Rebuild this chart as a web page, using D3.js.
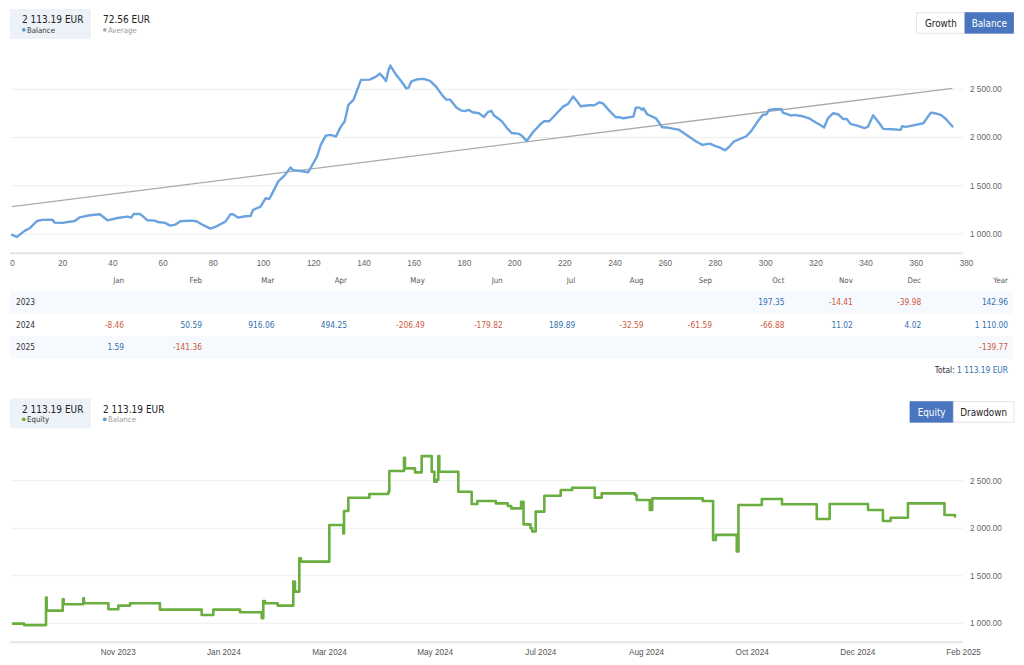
<!DOCTYPE html>
<html><head><meta charset="utf-8">
<script src="https://cdnjs.cloudflare.com/ajax/libs/d3/7.8.5/d3.min.js"></script>
<style>
body{margin:0;background:#fff;width:1024px;height:665px;overflow:hidden;position:relative;font-family:"DejaVu Sans Condensed","DejaVu Sans",sans-serif;}
svg{position:absolute;left:0;top:0}
#tbl{position:absolute;left:10px;top:270px;width:1003px;}
table{width:1003px;border-collapse:collapse;font-size:8.3px;}
td{padding:0 5px;text-align:right;height:22.5px;white-space:nowrap}
tr.h td{height:21px;color:#555;font-size:7.8px}
td.y{text-align:left;color:#333;padding-left:6px}
tr.alt td{background:#f6f9fd}
.pos{color:#2f6fae}.neg{color:#cc5a41}
</style></head>
<body>
<svg id="c" width="1024" height="665"></svg>
<div id="tbl"></div>
<script>
// ---------- data ----------
const balanceNow = 2113.19;
const averageVal = 72.56;
const equityNow = 2113.19;
// balance curve: [trade #, balance]
const balancePts = [[0,990],[2,970],[5,1032],[7,1059],[10,1135],[12,1146],[16,1149],[17,1118],[20,1115],[25,1135],[27,1173],[31,1194],[35,1204],[38,1142],[42,1166],[46,1180],[47.5,1170],[48.5,1208],[51,1208],[54,1142],[57,1139],[58,1125],[61,1115],[63,1087],[65,1097],[67,1132],[71,1139],[73.5,1132],[76,1094],[79,1056],[81.5,1080],[85,1128],[87,1204],[88,1204],[90,1170],[93,1184],[95,1187],[96,1249],[99,1284],[101,1370],[102.5,1363],[104,1439],[106,1543],[108.5,1605],[111,1688],[112,1660],[115,1653],[118,1640],[120,1733],[121.5,1802],[123,1923],[125,2020],[127,2027],[129,2009],[131,2113],[132.5,2165],[134,2338],[136,2389],[138,2528],[139,2597],[142.5,2600],[145,2631],[146.5,2662],[148,2621],[149,2586],[150,2700],[150.7,2745],[153,2649],[155,2586],[157,2510],[158,2517],[159,2579],[161.5,2604],[164,2607],[166.5,2586],[169,2524],[171.5,2434],[173,2393],[174.5,2393],[177,2310],[179,2279],[180.5,2275],[182,2286],[183.5,2262],[186,2251],[188,2213],[189.5,2262],[191,2275],[192,2227],[195,2172],[197,2103],[199,2047],[202,2037],[203,2020],[205,1964],[207.5,2054],[211,2151],[212,2168],[214,2168],[217,2251],[219.5,2320],[221.5,2348],[223.5,2424],[225,2379],[226.5,2324],[230,2334],[232,2334],[234,2365],[235.5,2351],[238,2275],[240.5,2210],[242,2210],[243.5,2199],[247.5,2217],[248.5,2310],[250,2310],[251,2286],[251.5,2303],[253,2241],[255,2217],[256.5,2199],[259,2106],[261,2103],[265.5,2082],[269,2020],[272.5,1958],[275,1923],[278,1937],[280,1913],[282,1895],[284,1868],[285.5,1899],[287.5,1958],[290.5,1992],[292.5,2013],[294.5,2068],[297,2165],[299,2234],[300.5,2241],[301.5,2286],[303.5,2293],[306.5,2296],[307,2258],[310.5,2227],[311.5,2234],[315,2220],[317.5,2199],[320,2158],[322,2130],[323.5,2103],[325,2199],[327,2251],[329,2241],[331,2192],[332.5,2192],[334,2141],[337,2120],[339.5,2096],[341,2113],[343,2230],[345.5,2148],[347,2089],[350.5,2086],[354,2079],[354.5,2116],[356,2110],[358.5,2123],[363,2148],[366,2258],[367.5,2251],[370,2234],[372,2192],[374.6,2113.19]];
// average trend line: [trade #, value]
const averagePts = [[0,1284],[374.6,2510]];
// equity steps: [time position, equity]
const equityPts = [[0,997],[1.14,981],[3.22,1270],[3.28,1133],[4.8,1253],[4.89,1200],[6.75,1263],[6.81,1211],[9.12,1147],[10.06,1186],[11.17,1211],[14.0,1144],[17.95,1088],[19.05,1144],[21.58,1116],[23.63,1053],[23.78,1235],[23.94,1211],[25.14,1186],[26.62,1438],[26.78,1333],[27.19,1684],[27.35,1649],[30.03,2034],[31.35,1946],[31.42,2181],[31.83,2321],[33.82,2360],[35.61,2384],[35.71,2602],[37.1,2742],[37.19,2630],[38.14,2588],[38.77,2759],[39.72,2595],[39.97,2490],[40.19,2510],[40.34,2759],[40.44,2595],[42.24,2384],[43.5,2255],[44.04,2286],[45.78,2262],[46.92,2234],[47.25,2209],[48.18,2279],[48.41,2041],[49.07,2000],[49.23,1965],[49.56,2175],[50.38,2342],[51.93,2402],[53.01,2426],[55.15,2322],[55.81,2367],[58.94,2350],[59.11,2297],[60.36,2192],[60.59,2314],[65.36,2286],[66.35,1877],[66.61,1930],[68.59,1755],[68.75,2245],[70.96,2308],[72.87,2252],[76.16,2097],[77.38,2255],[81.01,2192],[82.42,2077],[83.15,2111],[84.79,2262],[88.25,2140],[89.24,2113]];
const yTicks = [1000,1500,2000,2500];
const tradeTicks = [0,20,40,60,80,100,120,140,160,180,200,220,240,260,280,300,320,340,360,380];
const dateTickPos = [10,20,30,40,50,60,70,80,90];
const dateTickLabels = ["Nov 2023","Jan 2024","Mar 2024","May 2024","Jul 2024","Aug 2024","Oct 2024","Dec 2024","Feb 2025"];
const months = ["Jan","Feb","Mar","Apr","May","Jun","Jul","Aug","Sep","Oct","Nov","Dec"];
const years = ["2023","2024","2025"];
const monthly2023 = [null,null,null,null,null,null,null,null,null,197.35,-14.41,-39.98];
const monthly2024 = [-8.46,50.59,916.06,494.25,-206.49,-179.82,189.89,-32.59,-61.59,-66.88,11.02,4.02];
const monthly2025 = [1.59,-141.36,null,null,null,null,null,null,null,null,null,null];
const yearTotals = [142.96,1110.00,-139.77];
const totalProfit = 1113.19;

// ---------- helpers ----------
const loc = d3.formatLocale({decimal:".",thousands:" ",grouping:[3],currency:["",""],minus:"-"});
const f2 = loc.format(",.2f");
const svg = d3.select("#c");
const axisFont = "'Liberation Sans', Arial, sans-serif";
const uiFont = "'DejaVu Sans Condensed','DejaVu Sans',sans-serif";

function legendBlock(y0, items){
  svg.append("rect").attr("x",10).attr("y",y0).attr("width",81).attr("height",30).attr("fill","#edf2f9");
  items.forEach((it,i)=>{
    const x = i===0 ? 22 : 103;
    svg.append("text").attr("x",x).attr("y",y0+14).attr("font-family",uiFont).attr("font-size",10)
      .attr("fill","#222").text(it.value);
    svg.append("circle").attr("cx",x+1.8).attr("cy",y0+20.8).attr("r",1.9).attr("fill",it.dot);
    svg.append("text").attr("x",x+5).attr("y",y0+23.5).attr("font-family",uiFont).attr("font-size",7.8)
      .attr("fill",it.fg).text(it.label);
  });
}
function buttons(y0, defs){
  defs.forEach(b=>{
    svg.append("rect").attr("x",b.x).attr("y",y0).attr("width",b.w).attr("height",20.5)
      .attr("fill",b.on?"#4a76bf":"#fff").attr("stroke",b.on?"#4a76bf":"#dcdcdc").attr("stroke-width",0.8);
    svg.append("text").attr("x",b.x+b.w/2).attr("y",y0+10.5).attr("dy","0.35em").attr("text-anchor","middle")
      .attr("font-family",uiFont).attr("font-size",9.8).attr("fill",b.on?"#fff":"#222").text(b.t);
  });
}

// ---------- top: balance chart ----------
legendBlock(9,[{value:f2(balanceNow)+" EUR",label:"Balance",dot:"#5b9bd5",fg:"#333"},
               {value:f2(averageVal)+" EUR",label:"Average",dot:"#aaa",fg:"#999"}]);
buttons(12.7,[{x:916.7,w:48.3,t:"Growth",on:false},{x:965,w:48.5,t:"Balance",on:true}]);

const xT = d3.scaleLinear().domain([0,380]).range([12,966]);
const yT = d3.scaleLinear().domain([800,3000]).range([253.3,41]);
const gT = svg.append("g");
gT.selectAll("line.g").data(yTicks).join("line").attr("class","g")
  .attr("x1",11).attr("x2",963).attr("y1",d=>yT(d)).attr("y2",d=>yT(d))
  .attr("stroke","#eeeeee").attr("stroke-width",1);
gT.append("line").attr("x1",10).attr("x2",963).attr("y1",yT(800)).attr("y2",yT(800)).attr("stroke","#e6e6e6").attr("stroke-width",2);
gT.selectAll("text.yl").data(yTicks).join("text").attr("class","yl")
  .attr("x",970).attr("y",d=>yT(d)).attr("dy","0.34em").attr("font-family",axisFont).attr("font-size",8.2)
  .attr("fill","#666").text(d=>f2(d));
const axT = svg.append("g").attr("transform","translate(0,258)")
  .call(d3.axisBottom(xT).tickValues(tradeTicks).tickSize(0).tickPadding(2).tickFormat(d3.format("d")));
axT.select(".domain").remove();
axT.selectAll("text").attr("font-family",axisFont).attr("font-size",8.2).attr("fill","#666");

gT.append("path").datum(averagePts).attr("fill","none").attr("stroke","#aaaaaa").attr("stroke-width",1.3)
  .attr("d",d3.line().x(d=>xT(d[0])).y(d=>yT(d[1])));
gT.append("path").datum(balancePts).attr("fill","none").attr("stroke","#6aa3df").attr("stroke-width",2.4)
  .attr("stroke-linejoin","round").attr("stroke-linecap","round")
  .attr("d",d3.line().x(d=>xT(d[0])).y(d=>yT(d[1])));

// ---------- table ----------
const tbl = d3.select("#tbl").append("table");
const hr = tbl.append("tr").attr("class","h");
hr.append("td");
months.concat(["Year"]).forEach(m=>hr.append("td").text(m));
[monthly2023,monthly2024,monthly2025].forEach((row,i)=>{
  const tr = tbl.append("tr").attr("class", i%2===0?"alt":"");
  tr.append("td").attr("class","y").text(years[i]);
  row.concat([yearTotals[i]]).forEach(v=>{
    tr.append("td").attr("class", v==null?"":(v<0?"neg":"pos")).text(v==null?"":f2(v));
  });
});
const tot = svg.append("text").attr("x",1008).attr("y",370).attr("dy","0.35em").attr("text-anchor","end")
  .attr("font-family",uiFont).attr("font-size",8.3);
tot.append("tspan").attr("fill","#333").text("Total: ");
tot.append("tspan").attr("fill","#2f6fae").text(f2(totalProfit)+" EUR");

// ---------- bottom: equity chart ----------
legendBlock(398.5,[{value:f2(equityNow)+" EUR",label:"Equity",dot:"#6aae3f",fg:"#333"},
                   {value:f2(balanceNow)+" EUR",label:"Balance",dot:"#5b9bd5",fg:"#999"}]);
buttons(401.7,[{x:910,w:43.3,t:"Equity",on:true},{x:953.3,w:60.7,t:"Drawdown",on:false}]);

const xB = d3.scaleLinear().domain([0,90]).range([12,963]);
const yB = d3.scaleLinear().domain([800,3000]).range([642.3,433.2]);
const gB = svg.append("g");
gB.selectAll("line.g").data(yTicks).join("line").attr("class","g")
  .attr("x1",11).attr("x2",963).attr("y1",d=>yB(d)).attr("y2",d=>yB(d))
  .attr("stroke","#eeeeee").attr("stroke-width",1);
gB.append("line").attr("x1",10).attr("x2",963).attr("y1",yB(800)).attr("y2",yB(800)).attr("stroke","#e6e6e6").attr("stroke-width",2);
gB.selectAll("text.yl").data(yTicks).join("text").attr("class","yl")
  .attr("x",970).attr("y",d=>yB(d)).attr("dy","0.34em").attr("font-family",axisFont).attr("font-size",8.2)
  .attr("fill","#666").text(d=>f2(d));
const axB = svg.append("g").attr("transform","translate(0,647)")
  .call(d3.axisBottom(xB).tickValues(dateTickPos).tickSize(0).tickPadding(2).tickFormat((d,i)=>dateTickLabels[i]));
axB.select(".domain").remove();
axB.selectAll("text").attr("font-family",axisFont).attr("font-size",8.2).attr("fill","#555");

const stepLine = d3.line().curve(d3.curveStepAfter).x(d=>xB(d[0])).y(d=>yB(d[1]));
gB.append("path").datum(equityPts).attr("fill","none").attr("stroke","#6aa3df").attr("stroke-width",1.2)
  .attr("d",stepLine);
gB.append("path").datum(equityPts).attr("fill","none").attr("stroke","#6aae3f").attr("stroke-width",2.6)
  .attr("stroke-linejoin","round").attr("d",stepLine);
</script>
</body></html>
